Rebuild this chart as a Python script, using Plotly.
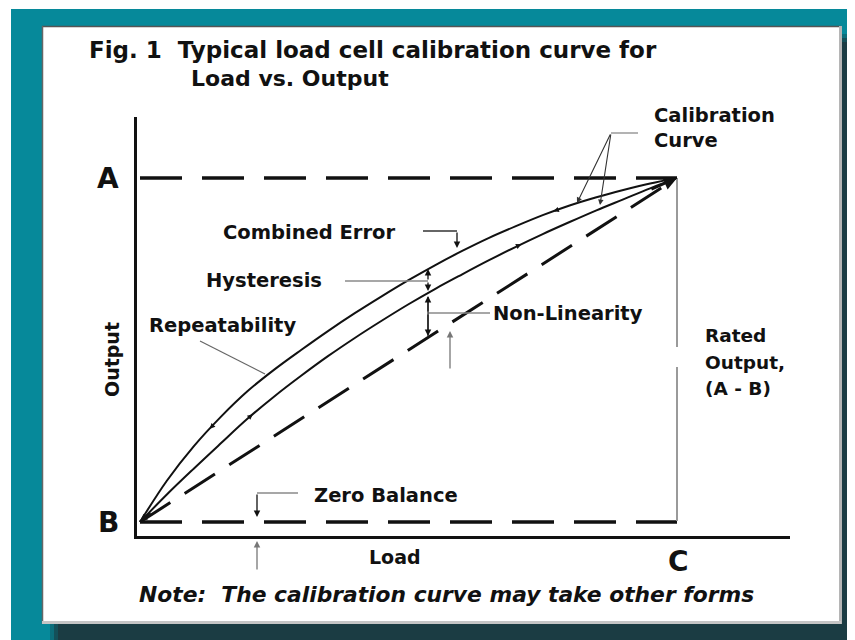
import numpy as np
import plotly.graph_objects as go

# ---------------- data (normalised: B = 0 output, A = rated output, C = rated load) -------------
load = [0, 0.05, 0.10, 0.15, 0.20, 0.25, 0.30, 0.35, 0.40, 0.45, 0.50,
        0.55, 0.60, 0.65, 0.70, 0.75, 0.80, 0.85, 0.90, 0.95, 1.00]
output_decreasing = [0, 0.12, 0.22, 0.305, 0.38, 0.443, 0.50, 0.555, 0.607, 0.656, 0.703,
                     0.747, 0.788, 0.826, 0.86, 0.892, 0.92, 0.944, 0.965, 0.984, 1.00]
output_increasing = [0, 0.08, 0.155, 0.228, 0.30, 0.365, 0.425, 0.482, 0.535, 0.585, 0.633,
                     0.678, 0.72, 0.761, 0.80, 0.837, 0.872, 0.906, 0.938, 0.97, 1.00]
line_load = [0, 1]
line_output = [0, 1]
level_A = [1, 1]
level_B = [0, 0]
# loads at which the small direction arrowheads sit on each curve
tick_load_decreasing = [0.13, 0.77]
tick_load_increasing = [0.21, 0.71]

OFF = 8                      # page body margin of the browser
W, H = 855 - OFF, 640 - OFF  # figure fills the rest of the window
FONT = "DejaVu Sans"
INK = "#111111"
GREY = "#8a8a8a"
TEAL = "#06899a"
DARK = "#1b3c43"


def PX(x):
    return (x - OFF) / W


def PY(y):
    return 1 - (y - OFF) / H


fig = go.Figure()

# straight line (dashed)
fig.add_trace(go.Scatter(x=line_load, y=line_output, mode="lines",
                         line=dict(color=INK, width=3, dash="36px,17px"),
                         hoverinfo="skip", showlegend=False))
# calibration curves
fig.add_trace(go.Scatter(x=load, y=output_increasing, mode="lines",
                         line=dict(color=INK, width=2, shape="spline", smoothing=1.0),
                         hoverinfo="skip", showlegend=False))
fig.add_trace(go.Scatter(x=load, y=output_decreasing, mode="lines",
                         line=dict(color=INK, width=2, shape="spline", smoothing=1.0),
                         hoverinfo="skip", showlegend=False))
# A and B levels
fig.add_trace(go.Scatter(x=line_load, y=level_A, mode="lines",
                         line=dict(color=INK, width=3.5, dash="42px,20px"),
                         hoverinfo="skip", showlegend=False))
fig.add_trace(go.Scatter(x=line_load, y=level_B, mode="lines",
                         line=dict(color=INK, width=3.5, dash="42px,20px"),
                         hoverinfo="skip", showlegend=False))

shapes = []
# outer teal frame and drop shadow
shapes.append(dict(type="rect", xref="paper", yref="paper", x0=PX(11), x1=PX(860), y0=PY(9), y1=PY(645),
                   fillcolor=TEAL, line=dict(width=0), layer="below"))
for off, op in [(0, 0.35), (4, 0.6), (8, 1.0)]:
    shapes.append(dict(type="rect", xref="paper", yref="paper", x0=PX(50 + off), x1=PX(860),
                       y0=PY(34 + off), y1=PY(645), fillcolor=DARK, opacity=op,
                       line=dict(width=0), layer="below"))
# white panel
shapes.append(dict(type="rect", xref="paper", yref="paper", x0=PX(42), x1=PX(841), y0=PY(26), y1=PY(624),
                   fillcolor="white", line=dict(width=0), layer="below"))
shapes.append(dict(type="line", xref="paper", yref="paper", x0=PX(42), x1=PX(841), y0=PY(26.5), y1=PY(26.5),
                   line=dict(color="#555555", width=1.5), layer="below"))
shapes.append(dict(type="line", xref="paper", yref="paper", x0=PX(42.5), x1=PX(42.5), y0=PY(26), y1=PY(624),
                   line=dict(color="#666666", width=1.5), layer="below"))
shapes.append(dict(type="line", xref="paper", yref="paper", x0=PX(840.5), x1=PX(840.5), y0=PY(26), y1=PY(624),
                   line=dict(color="#b5b5b5", width=3), layer="below"))
shapes.append(dict(type="line", xref="paper", yref="paper", x0=PX(42), x1=PX(841), y0=PY(622.5), y1=PY(622.5),
                   line=dict(color="#c5c5c5", width=3), layer="below"))


def seg(x0, y0, x1, y1, color=GREY, width=1.3):
    shapes.append(dict(type="line", xref="paper", yref="paper", x0=PX(x0), y0=PY(y0), x1=PX(x1), y1=PY(y1),
                       line=dict(color=color, width=width)))


# rated-output vertical line
seg(677, 179, 677, 347, color="#9a9a9a", width=2)
seg(677, 367, 677, 521, color="#9a9a9a", width=2)
# leader lines
seg(638, 133, 611, 133)                 # calibration curve
seg(423, 231, 457, 231, color="#333", width=1.3)  # combined error
seg(345, 281, 428, 281)                 # hysteresis
seg(428, 313, 490, 313)                 # non-linearity
seg(428, 297, 428, 336, color="#333", width=1.3)
seg(200, 341, 265, 374, color="#666", width=1.2)  # repeatability
seg(298, 493, 257, 493)                 # zero balance

annotations = []


def arrow(tipx, tipy, tailx, taily, color=INK, width=1.3, size=1.0, head=2):
    annotations.append(dict(xref="paper", yref="paper", x=PX(tipx), y=PY(tipy), text="",
                            showarrow=True, axref="pixel", ayref="pixel",
                            ax=tailx - tipx, ay=taily - tipy, arrowhead=head,
                            arrowsize=size, arrowwidth=width, arrowcolor=color, standoff=0))


arrow(577, 203, 611, 133, color="#333", width=1.1)
arrow(600, 205, 611, 133, color="#333", width=1.1)
arrow(457, 248, 457, 231)
arrow(428, 269, 428, 281)
arrow(428, 291, 428, 281)
arrow(428, 296, 428, 313)
arrow(428, 336, 428, 313)
arrow(450, 331, 450, 370, color="#777", width=1.3)
arrow(257, 517, 257, 493)
arrow(257, 541, 257, 571, color="#777", width=1.3)
arrow(677, 178, 650, 190, width=2.4, size=1.1)
arrow(140, 521, 152, 512, width=1.6, size=0.9)

# small direction arrowheads on the curves, placed through the data axes
SX, SY = 537.0, 344.0  # pixels per unit load / output


def curve_tick(xs, ys, at, direction):
    for xv in at:
        yv = float(np.interp(xv, xs, ys))
        y2 = float(np.interp(xv + 0.01, xs, ys))
        dx, dy = 0.01 * SX, (y2 - yv) * SY
        n = (dx * dx + dy * dy) ** 0.5
        ux, uy = dx / n, -dy / n  # screen direction of increasing load
        annotations.append(dict(xref="x", yref="y", x=xv, y=yv, text="", showarrow=True,
                                axref="pixel", ayref="pixel",
                                ax=-direction * 7 * ux, ay=-direction * 7 * uy,
                                arrowhead=2, arrowsize=0.9, arrowwidth=1.2, arrowcolor=INK, standoff=0))


curve_tick(load, output_decreasing, tick_load_decreasing, -1)
curve_tick(load, output_increasing, tick_load_increasing, +1)


def label(text, x, y, size=17, xanchor="left", angle=0, style="normal", weight="bold"):
    annotations.append(dict(xref="paper", yref="paper", x=PX(x), y=PY(y), text=text, showarrow=False,
                            xanchor=xanchor, yanchor="middle", textangle=angle,
                            font=dict(family=FONT, size=size, color=INK, weight=weight, style=style)))


label("Fig. 1\u00a0\u00a0Typical load cell calibration curve for", 87, 50, size=23)
label("Load vs. Output", 189, 78, size=22)
label("Calibration", 652, 115, size=19.5)
label("Curve", 652, 140, size=19.5)
label("A", 108, 178, size=28, xanchor="center")
label("B", 108, 522, size=28, xanchor="center")
label("C", 678, 561, size=28, xanchor="center")
label("Output", 112, 360, size=19, xanchor="center", angle=-90)
label("Load", 395, 557, size=19, xanchor="center")
label("Combined Error", 221, 232, size=19.5)
label("Hysteresis", 204, 280, size=19.5)
label("Repeatability", 147, 325, size=19.5)
label("Non-Linearity", 491, 313, size=19.5)
label("Zero Balance", 312, 495, size=19.5)
label("Rated", 703, 335, size=18.5)
label("Output,", 703, 362, size=18.5)
label("(A - B)", 703, 388, size=18.5)
label("Note:\u00a0\u00a0The calibration curve may take other forms", 137, 594, size=21.8, style="italic")

# axes positioned so that B = (140, 522) px and the A/C corner = (677, 178) px
x_left, x_right = 137, 790
y_top, y_bottom = 117, 536
fig.update_layout(
    width=W, height=H, autosize=False,
    margin=dict(l=0, r=0, t=0, b=0),
    paper_bgcolor="white", plot_bgcolor="rgba(0,0,0,0)",
    showlegend=False,
    xaxis=dict(domain=[PX(x_left), PX(x_right)], range=[(x_left - 140) / SX, (x_right - 140) / SX],
               showline=True, linecolor=INK, linewidth=2.5, showgrid=False, zeroline=False,
               showticklabels=False, ticks="", fixedrange=True),
    yaxis=dict(domain=[PY(y_bottom), PY(y_top)], range=[(522 - y_bottom) / SY, (522 - y_top) / SY],
               showline=True, linecolor=INK, linewidth=3, showgrid=False, zeroline=False,
               showticklabels=False, ticks="", fixedrange=True),
    shapes=shapes,
    annotations=annotations,
)

fig.write_html("out.html")
